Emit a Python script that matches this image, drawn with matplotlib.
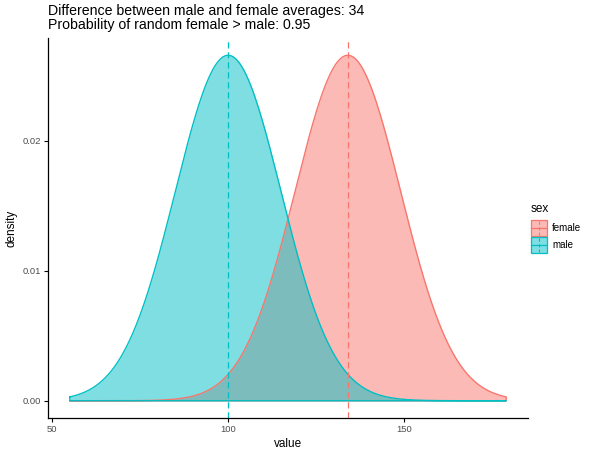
import numpy as np
import matplotlib
matplotlib.use("Agg")
import matplotlib.pyplot as plt
from matplotlib.patches import Rectangle
from matplotlib.lines import Line2D

plt.rcParams['font.family'] = ['Liberation Sans', 'DejaVu Sans']

# Data
groups = ["female", "male"]
means = [134, 100]
sds = [15, 15]
x_min, x_max = 55, 179
colors = ["#F8766D", "#00BFC4"]
x_ticks = [50, 100, 150]
y_ticks = [0.00, 0.01, 0.02]
y_tick_labels = ["0.00", "0.01", "0.02"]
title_lines = ["Difference between male and female averages: 34",
               "Probability of random female > male: 0.95"]

fig = plt.figure(figsize=(5.96, 4.51), dpi=100)
W, H = 596, 451
ax = fig.add_axes([48 / W, (H - 418) / H, (528 - 48) / W, (418 - 38) / H])

xs = np.linspace(x_min, x_max, 512)
for g, m, s, c in zip(groups, means, sds, colors):
    ys = np.exp(-0.5 * ((xs - m) / s) ** 2) / (s * np.sqrt(2 * np.pi))
    ax.fill_between(xs, 0, ys, color=c, alpha=0.5, linewidth=0)
    px = np.concatenate([xs, xs[::-1]])
    py = np.concatenate([ys, np.zeros_like(ys)])
    ax.plot(np.append(px, px[0]), np.append(py, py[0]), color=c, lw=1.0)
for m, c in zip(means, colors):
    ax.axvline(m, color=c, ls=(0, (5, 3)), lw=0.9)

peak = 1 / (15 * np.sqrt(2 * np.pi))
rng = x_max - x_min
ax.set_xlim(x_min - 0.05 * rng, x_max + 0.05 * rng)
ax.set_ylim(-0.05 * peak, peak * 1.05)
ax.set_xticks(x_ticks)
ax.set_yticks(y_ticks)
ax.set_yticklabels(y_tick_labels)
for sp in ["top", "right"]:
    ax.spines[sp].set_visible(False)
for sp in ["left", "bottom"]:
    ax.spines[sp].set_linewidth(0.9)
ax.tick_params(labelsize=6.8, labelcolor="#4D4D4D", length=3, width=0.8, pad=2)
ax.set_xlabel("value", fontsize=8.5, labelpad=3)
ax.set_ylabel("density", fontsize=8.5, labelpad=4)

fig.text(48 / W, 1 - 4 / H, "\n".join(title_lines), fontsize=10.2, va="top",
         ha="left", linespacing=1.0)

# Legend
fig.text(531 / W, 1 - 209 / H, "sex", fontsize=8.5, va="center", ha="left")
for i, (g, c) in enumerate(zip(groups, colors)):
    yc = 228 + i * 17
    x0, y0 = 531, yc - 8
    fig.add_artist(Rectangle((x0 / W, 1 - (y0 + 16) / H), 16 / W, 16 / H,
                             transform=fig.transFigure, facecolor=c, alpha=0.5,
                             edgecolor="none"))
    fig.add_artist(Rectangle((x0 / W, 1 - (y0 + 16) / H), 16 / W, 16 / H,
                             transform=fig.transFigure, facecolor="none",
                             edgecolor=c, lw=0.9))
    fig.add_artist(Line2D([(x0 + 8) / W] * 2, [1 - (y0 + 1) / H, 1 - (y0 + 15) / H],
                          transform=fig.transFigure, color=c, lw=0.8, ls=(0, (3, 2))))
    fig.add_artist(Line2D([(x0 + 1) / W, (x0 + 15) / W], [1 - yc / H] * 2,
                          transform=fig.transFigure, color=c, lw=0.9))
    fig.text(552 / W, 1 - yc / H, g, fontsize=7, va="center", ha="left")

fig.savefig("out.png", dpi=100)
